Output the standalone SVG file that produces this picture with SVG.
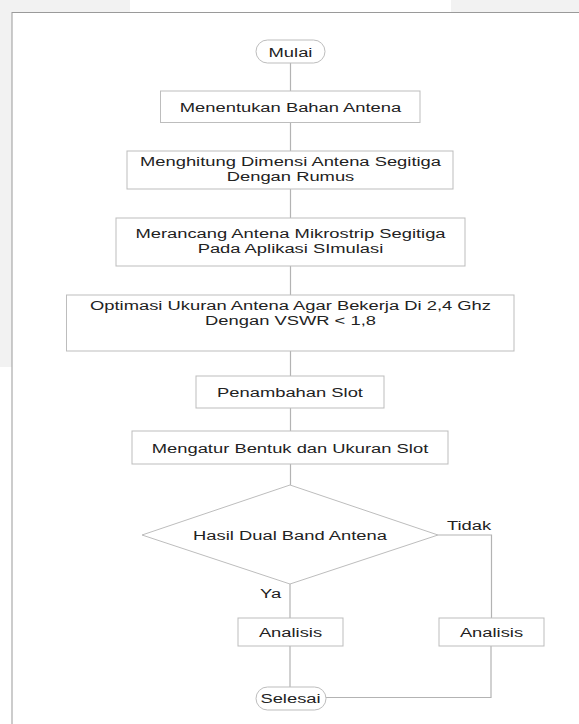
<svg xmlns="http://www.w3.org/2000/svg" width="579" height="724" viewBox="0 0 579 724">
<style>
.bg{fill:#f2f2f2}
.node{fill:#ffffff;stroke:#bdbdbd;stroke-width:1}
.conn{fill:none;stroke:#b3b3b3;stroke-width:1.2}
.t{font-family:"Liberation Sans",Arial,sans-serif;font-size:13.5px;fill:#222;text-anchor:middle}
.ts{font-family:"Liberation Sans",Arial,sans-serif;font-size:13.5px;fill:#222;text-anchor:start}
</style>
<rect x="0" y="0" width="579" height="724" fill="#ffffff"/>
<rect class="bg" x="0" y="0" width="130" height="12"/>
<rect class="bg" x="451" y="0" width="128" height="12"/>
<rect class="bg" x="0" y="0" width="12" height="367"/>
<rect x="12" y="12.5" width="600" height="740" fill="#ffffff" stroke="#9a9a9a" stroke-width="1"/>

<g id="connectors">
<path class="conn" d="M290.5 63V91M290.5 122.5V151M290.5 189V218M290.5 266V295M290.5 351V376M290.5 408V431M290.5 464V485"/>
<path class="conn" d="M290 584V618M290 646V687"/>
<path class="conn" d="M438 535H491.5V618"/>
<path class="conn" d="M491 646V697.5H326"/>
<text class="ts" transform="translate(447,530) scale(1.36,1)">Tidak</text>
<text class="ts" transform="translate(260,598) scale(1.36,1)">Ya</text>
</g>

<g id="mulai">
<rect class="node" x="256" y="40" width="69" height="23" rx="11.5"/>
<text class="t" transform="translate(290.5,56.5) scale(1.36,1)">Mulai</text>
</g>
<g id="bahan">
<rect class="node" x="160.5" y="91" width="259.5" height="31.5"/>
<text class="t" transform="translate(290.5,112) scale(1.36,1)">Menentukan Bahan Antena</text>
</g>
<g id="dimensi">
<rect class="node" x="127" y="151" width="326" height="38"/>
<text class="t" transform="translate(290.5,165.5) scale(1.36,1)">Menghitung Dimensi Antena Segitiga</text>
<text class="t" transform="translate(290.5,180.5) scale(1.36,1)">Dengan Rumus</text>
</g>
<g id="rancang">
<rect class="node" x="116" y="218" width="349" height="48"/>
<text class="t" transform="translate(290.5,238) scale(1.36,1)">Merancang Antena Mikrostrip Segitiga</text>
<text class="t" transform="translate(290.5,253) scale(1.36,1)">Pada Aplikasi SImulasi</text>
</g>
<g id="optimasi">
<rect class="node" x="66.5" y="295" width="447.5" height="56"/>
<text class="t" transform="translate(290.5,309.5) scale(1.36,1)">Optimasi Ukuran Antena Agar Bekerja Di 2,4 Ghz</text>
<text class="t" transform="translate(290.5,324.5) scale(1.36,1)">Dengan VSWR &lt; 1,8</text>
</g>
<g id="slot">
<rect class="node" x="196" y="376" width="188" height="32"/>
<text class="t" transform="translate(290,397) scale(1.36,1)">Penambahan Slot</text>
</g>
<g id="atur">
<rect class="node" x="132" y="431" width="316" height="33"/>
<text class="t" transform="translate(290,452.5) scale(1.36,1)">Mengatur Bentuk dan Ukuran Slot</text>
</g>
<g id="keputusan">
<polygon class="node" points="290,485 438,535 290,584 142,535"/>
<text class="t" transform="translate(290,539.5) scale(1.36,1)">Hasil Dual Band Antena</text>
</g>
<g id="analisis-ya">
<rect class="node" x="238" y="618" width="105" height="28"/>
<text class="t" transform="translate(290.5,637) scale(1.36,1)">Analisis</text>
</g>
<g id="analisis-tidak">
<rect class="node" x="439" y="618" width="105" height="28"/>
<text class="t" transform="translate(491.5,637) scale(1.36,1)">Analisis</text>
</g>
<g id="selesai">
<rect class="node" x="256" y="687" width="70" height="23" rx="11.5"/>
<text class="t" transform="translate(290.5,703) scale(1.36,1)">Selesai</text>
</g>
</svg>
